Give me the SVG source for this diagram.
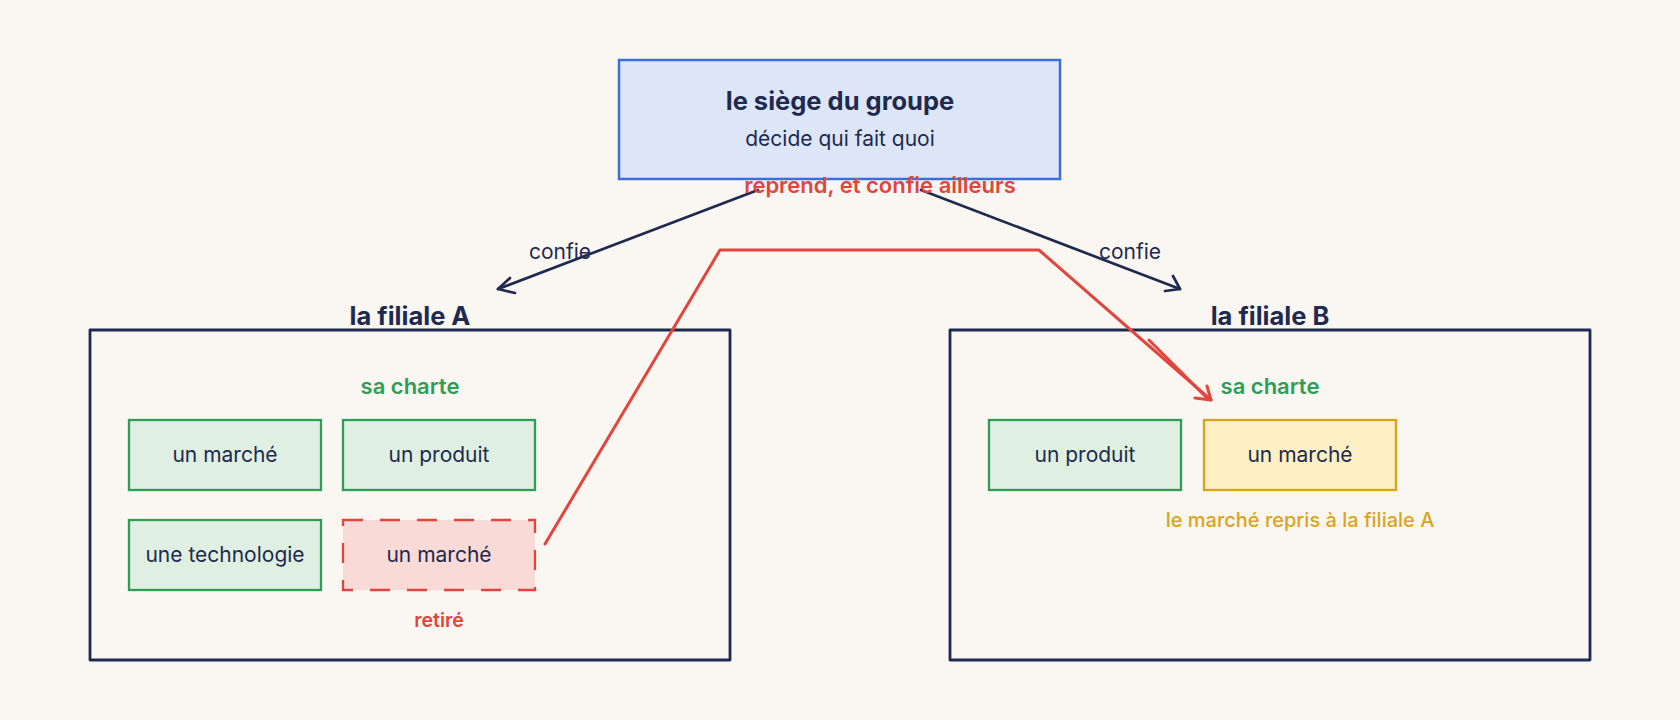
<svg xmlns="http://www.w3.org/2000/svg" width="1680" height="720" viewBox="0 0 1680 720">
  <defs>
    <style>
      .t { font-family: Inter, "Noto Sans", "DejaVu Sans", sans-serif; fill: #1e2a4f; text-anchor: middle; }
      .title { font-size: 25.5px; font-weight: 700; }
      .sub { font-size: 21px; font-weight: 400; }
      .item { font-size: 21px; font-weight: 400; }
      .green { fill: #2e9e57; font-size: 22px; font-weight: 600; }
      .red { fill: #e2453c; font-weight: 600; }
      .gold { fill: #d9a41c; font-size: 20px; font-weight: 500; }
      .navy { fill: none; stroke: #1e2a4f; stroke-width: 2.8; stroke-linecap: round; stroke-linejoin: round; }
      .gbox { fill: #dff0e3; stroke: #2e9e57; stroke-width: 2.3; }
      .conn { fill: none; stroke: #1e2a4f; stroke-width: 2.7; stroke-linecap: round; stroke-linejoin: round; }
      .rconn { fill: none; stroke: #e2453c; stroke-width: 3; stroke-linecap: round; stroke-linejoin: round; }
    </style>
  </defs>
  <rect width="1680" height="720" fill="#faf7f2"/>

  <g id="siege">
    <rect x="619" y="60" width="441" height="119" fill="#dce6f7" stroke="#3a6fd8" stroke-width="2.5"/>
    <text class="t title" x="840" y="110">le siège du groupe</text>
    <text class="t sub" x="840" y="146">décide qui fait quoi</text>
  </g>

  <g id="filiale-a">
    <rect x="90" y="330" width="640" height="330" class="navy"/>
    <text class="t title" x="410" y="325">la filiale A</text>
    <text class="t green" x="410" y="394">sa charte</text>
    <g id="a-marche">
      <rect x="129" y="420" width="192" height="70" class="gbox"/>
      <text class="t item" x="225" y="462">un marché</text>
    </g>
    <g id="a-produit">
      <rect x="343" y="420" width="192" height="70" class="gbox"/>
      <text class="t item" x="439" y="462">un produit</text>
    </g>
    <g id="a-technologie">
      <rect x="129" y="520" width="192" height="70" class="gbox"/>
      <text class="t item" x="225" y="562">une technologie</text>
    </g>
    <g id="a-marche-retire">
      <rect x="343" y="520" width="192" height="70" fill="#f9dad7" stroke="#e2453c" stroke-width="2.3" stroke-dasharray="20 17"/>
      <text class="t item" x="439" y="562">un marché</text>
      <text class="t red" x="439" y="627" font-size="19.5">retiré</text>
    </g>
  </g>

  <g id="filiale-b">
    <rect x="950" y="330" width="640" height="330" class="navy"/>
    <text class="t title" x="1270" y="325">la filiale B</text>
    <text class="t green" x="1270" y="394">sa charte</text>
    <g id="b-produit">
      <rect x="989" y="420" width="192" height="70" class="gbox"/>
      <text class="t item" x="1085" y="462">un produit</text>
    </g>
    <g id="b-marche">
      <rect x="1204" y="420" width="192" height="70" fill="#fcf0c4" stroke="#d9a41c" stroke-width="2.3"/>
      <text class="t item" x="1300" y="462">un marché</text>
      <text class="t gold" x="1300" y="527">le marché repris à la filiale A</text>
    </g>
  </g>

  <g id="connectors">
    <g id="conn-a">
      <path class="conn" d="M758 190 L498 289"/>
      <path class="conn" d="M510 278 L498 289 L515 293"/>
      <text class="t sub" x="560" y="259" font-size="22">confie</text>
    </g>
    <g id="conn-b">
      <path class="conn" d="M921 190 L1180 289"/>
      <path class="conn" d="M1173 276 L1180 289 L1165 291"/>
      <text class="t sub" x="1130" y="259" font-size="22">confie</text>
    </g>
    <g id="conn-transfer">
      <path class="rconn" d="M545 544 L720 250 L1039 250 L1211 400"/>
      <path class="rconn" d="M1149 340 L1207 398"/>
      <path class="rconn" d="M1207 386 L1211 400 L1195 398"/>
      <text class="t red" x="880" y="193" font-size="22">reprend, et confie ailleurs</text>
    </g>
  </g>
</svg>
